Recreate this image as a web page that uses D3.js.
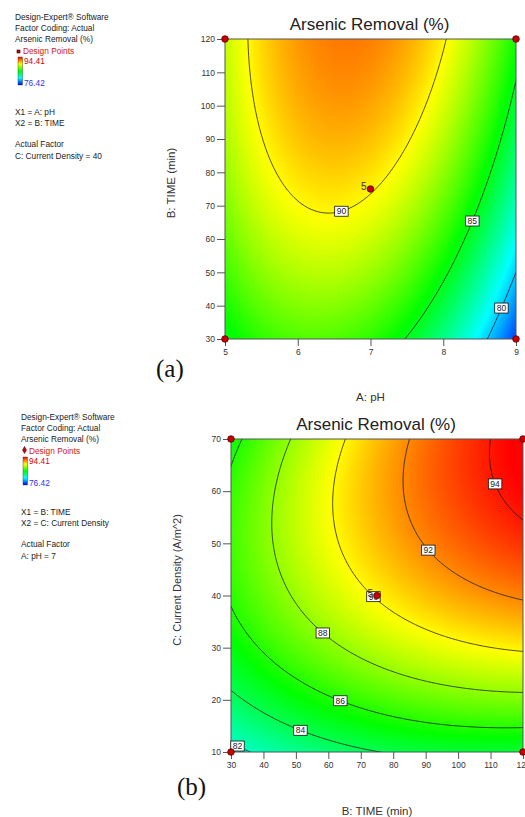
<!DOCTYPE html>
<html>
<head>
<meta charset="utf-8">
<style>
  body { margin: 0; background: #fff; font-family: "Liberation Sans", Arial, sans-serif; }
  svg { display: block; }
</style>
</head>
<body>
<svg width="525" height="817"></svg>
<script src="https://d3js.org/d3.v7.min.js"></script>
<script>
// quadratic response surface, coded units (A = pH, B = time, C = current density)
const terms = ["I", "A", "B", "C", "AB", "AC", "BC", "AA", "BB", "CC"];
const coefs = [90.1, -2.65, 3.0, 3.53, 1.073, 0, 1.56, -4.9, -0.95, -2.6];
const factorLow = [5, 30, 10];
const factorHigh = [9, 120, 70];
const responseRange = [76.42, 94.41];

// panel (a): pH vs time, current density held at 40
const levelsA = [80, 85, 90];
const labelAtA = [8.8, 8.4, 6.6];
const ticksXA = [5, 6, 7, 8, 9];
const ticksYA = [30, 40, 50, 60, 70, 80, 90, 100, 110, 120];
const designA = [[5, 30], [5, 120], [9, 30], [9, 120], [7, 75]];
const repsA = [1, 1, 1, 1, 5];
const legendA = ["Design-Expert\u00ae Software", "Factor Coding: Actual", "Arsenic Removal (%)",
  "X1 = A: pH", "X2 = B: TIME", "Actual Factor", "C: Current Density = 40"];

// panel (b): time vs current density, pH held at 7
const levelsB = [82, 84, 86, 88, 90, 92, 94];
const labelAtB = [32, 51.4, 63.7, 58.3, 73.9, 90.8, 111.4];
const ticksXB = [30, 40, 50, 60, 70, 80, 90, 100, 110, 120];
const ticksYB = [10, 20, 30, 40, 50, 60, 70];
const designB = [[30, 10], [30, 70], [120, 10], [120, 70], [75, 40]];
const repsB = [1, 1, 1, 1, 5];
const legendB = ["Design-Expert\u00ae Software", "Factor Coding: Actual", "Arsenic Removal (%)",
  "X1 = B: TIME", "X2 = C: Current Density", "Actual Factor", "A: pH = 7"];

const svg = d3.select("svg");
const defs = svg.append("defs");

function coded(k, v) {
  const mid = (factorLow[k] + factorHigh[k]) / 2, half = (factorHigh[k] - factorLow[k]) / 2;
  return (v - mid) / half;
}
function response(vals) {
  const x = { A: coded(0, vals[0]), B: coded(1, vals[1]), C: coded(2, vals[2]) };
  let y = 0;
  terms.forEach((t, i) => {
    let v = 1;
    if (t !== "I") for (const ch of t) v *= x[ch];
    y += coefs[i] * v;
  });
  return y;
}

const lo = responseRange[0], hi = responseRange[1];
const stops = d3.range(5).map(i => lo + i * (hi - lo) / 4);
const color = d3.scaleLinear().domain(stops)
  .range(["#0000ff", "#00ffff", "#00ff00", "#ffff00", "#ff0000"]).clamp(true);

const grad = defs.append("linearGradient").attr("id", "bar")
  .attr("x1", 0).attr("y1", 1).attr("x2", 0).attr("y2", 0);
stops.forEach((s, i) => grad.append("stop").attr("offset", i / 4).attr("stop-color", color(s)));

function drawPanel(p) {
  const g = svg.append("g");
  const { left, top, w, h } = p.box;
  const x = d3.scaleLinear().domain([factorLow[p.fx], factorHigh[p.fx]]).range([left, left + w]);
  const y = d3.scaleLinear().domain([factorLow[p.fy], factorHigh[p.fy]]).range([top + h, top]);
  const f = (xv, yv) => { const v = p.fixed.slice(); v[p.fx] = xv; v[p.fy] = yv; return response(v); };

  // colour fill
  const canvas = document.createElement("canvas");
  canvas.width = w; canvas.height = h;
  const ctx = canvas.getContext("2d");
  const img = ctx.createImageData(w, h);
  for (let j = 0; j < h; j++) {
    for (let i = 0; i < w; i++) {
      const c = d3.rgb(color(f(x.invert(left + i + 0.5), y.invert(top + j + 0.5))));
      const k = (j * w + i) * 4;
      img.data[k] = c.r; img.data[k + 1] = c.g; img.data[k + 2] = c.b; img.data[k + 3] = 255;
    }
  }
  ctx.putImageData(img, 0, 0);
  g.append("image").attr("x", left).attr("y", top).attr("width", w).attr("height", h)
    .attr("preserveAspectRatio", "none").attr("href", canvas.toDataURL());

  // contour lines
  const n = 160, pad = 3, nx = n + 1 + 2 * pad;
  const sx = (factorHigh[p.fx] - factorLow[p.fx]) / n, sy = (factorHigh[p.fy] - factorLow[p.fy]) / n;
  const values = new Array(nx * nx);
  for (let j = 0; j < nx; j++)
    for (let i = 0; i < nx; i++)
      values[j * nx + i] = f(factorLow[p.fx] + (i - pad) * sx, factorHigh[p.fy] - (j - pad) * sy);
  const contours = d3.contours().size([nx, nx]).thresholds(p.levels)(values);
  const proj = d3.geoTransform({
    point(gx, gy) {
      this.stream.point(x(factorLow[p.fx] + (gx - 0.5 - pad) * sx), y(factorHigh[p.fy] - (gy - 0.5 - pad) * sy));
    }
  });
  defs.append("clipPath").attr("id", "clip" + p.id).append("rect")
    .attr("x", left).attr("y", top).attr("width", w).attr("height", h);
  g.append("g").attr("clip-path", "url(#clip" + p.id + ")")
    .selectAll("path").data(contours).join("path")
    .attr("d", d3.geoPath(proj)).attr("fill", "none").attr("stroke", "#111").attr("stroke-width", 0.75);

  // frame
  g.append("rect").attr("x", left).attr("y", top).attr("width", w).attr("height", h)
    .attr("fill", "none").attr("stroke", "#555").attr("stroke-width", 1);

  // axes
  const ax = g.append("g").attr("transform", `translate(0,${top + h})`)
    .call(d3.axisBottom(x).tickValues(p.ticksX).tickSize(7).tickPadding(3).tickFormat(d3.format("d")));
  const ay = g.append("g").attr("transform", `translate(${left},0)`)
    .call(d3.axisLeft(y).tickValues(p.ticksY).tickSize(8).tickPadding(2).tickFormat(d3.format("d")));
  [ax, ay].forEach(a => {
    a.select(".domain").remove();
    a.selectAll("line").attr("stroke", "#555");
    a.selectAll("text").attr("fill", "#333").style("font-size", "8.5px").style("font-family", "Liberation Sans, Arial");
  });

  // contour labels
  const lab = g.append("g");
  p.levels.forEach((lev, i) => {
    const xv = p.labelAt[i];
    const y0 = factorLow[p.fy], y1 = factorHigh[p.fy], steps = 600;
    let a = y0, b = null;
    for (let s = 1; s <= steps; s++) {
      const yy = y0 + (y1 - y0) * s / steps;
      if ((f(xv, a) - lev) * (f(xv, yy) - lev) <= 0) { b = yy; break; }
      a = yy;
    }
    if (b === null) return;
    for (let it = 0; it < 40; it++) {
      const m = (a + b) / 2;
      if ((f(xv, a) - lev) * (f(xv, m) - lev) <= 0) b = m; else a = m;
    }
    const cx = x(xv), cy = y((a + b) / 2);
    const box = lab.append("g");
    const r = box.append("rect");
    const t = box.append("text").attr("x", cx).attr("y", cy).attr("dy", "0.35em")
      .attr("text-anchor", "middle").style("font-size", "8.5px").attr("fill", "#222").text(lev);
    const tw = t.node().getComputedTextLength();
    r.attr("x", cx - tw / 2 - 2).attr("y", cy - 5).attr("width", tw + 4).attr("height", 10)
      .attr("fill", "#fff").attr("stroke", "#111").attr("stroke-width", 0.8);
  });

  // design points
  g.selectAll("circle.dp").data(p.design).join("circle").attr("class", "dp")
    .attr("cx", d => x(d[0])).attr("cy", d => y(d[1])).attr("r", 3.3)
    .attr("fill", "#c80000").attr("stroke", "#5a0000").attr("stroke-width", 0.8);
  g.selectAll("text.rep").data(p.design.filter((d, i) => p.reps[i] > 1)).join("text").attr("class", "rep")
    .attr("x", d => x(d[0]) - 4).attr("y", d => y(d[1]) + 1)
    .attr("text-anchor", "end").style("font-size", "10px").attr("fill", "#333")
    .text((d, i) => p.reps.filter(r => r > 1)[i]);

  // titles
  g.append("text").attr("x", left + w / 2 + p.titleDx).attr("y", top - 9).attr("text-anchor", "middle")
    .style("font-size", "17px").attr("fill", "#222").text("Arsenic Removal (%)");
  g.append("text").attr("x", x((factorLow[p.fx] + factorHigh[p.fx]) / 2)).attr("y", p.xLabelY)
    .attr("text-anchor", "middle").style("font-size", "11.5px").attr("fill", "#333").text(p.xTitle);
  g.append("text").attr("transform", `translate(${p.yLabelX},${p.yLabelCy}) rotate(-90)`)
    .attr("dy", "0.35em").attr("text-anchor", "middle").style("font-size", p.yLabelSize).attr("fill", "#333")
    .text(p.yTitle);
  g.append("text").attr("x", p.tag[0]).attr("y", p.tag[1])
    .style("font-family", "Liberation Serif, Times New Roman, serif").style("font-size", "25px")
    .attr("fill", "#111").text(p.tagText);

  // legend
  const lg = g.append("g").attr("transform", `translate(${p.legend[0]},${p.legend[1]})`)
    .style("font-size", "8.3px").attr("fill", "#222");
  const lines = p.legendLines;
  [0, 1, 2].forEach(i => lg.append("text").attr("x", 0).attr("y", i * 11).text(lines[i]));
  if (p.id === "a") {
    lg.append("rect").attr("x", 2).attr("y", 30).attr("width", 3).attr("height", 3)
      .attr("fill", "#c80000").attr("stroke", "#400").attr("stroke-width", 0.6);
  } else {
    lg.append("path").attr("d", d3.symbol(d3.symbolDiamond, 14)())
      .attr("transform", "translate(3.5,30)").attr("fill", "#c80000").attr("stroke", "#400").attr("stroke-width", 0.5);
  }
  lg.append("text").attr("x", 8).attr("y", 33.5).attr("fill", "#d01818").text("Design Points");
  lg.append("rect").attr("x", p.barX).attr("y", 37).attr("width", 4.5).attr("height", 28)
    .attr("fill", "url(#bar)").attr("stroke", "#333").attr("stroke-width", 0.4);
  lg.append("text").attr("x", p.barX + 6).attr("y", 44).attr("fill", "#e00000").text(d3.format(".2f")(hi));
  lg.append("text").attr("x", p.barX + 6).attr("y", 66).attr("fill", "#3030ff").text(d3.format(".2f")(lo));
  lg.append("text").attr("x", 0).attr("y", 95).text(lines[3]);
  lg.append("text").attr("x", 0).attr("y", 106).text(lines[4]);
  lg.append("text").attr("x", 0).attr("y", 127).text(lines[5]);
  lg.append("text").attr("x", 0).attr("y", 139).text(lines[6]);
}

drawPanel({
  id: "a", box: { left: 225, top: 39, w: 291, h: 300 }, fx: 0, fy: 1, fixed: [7, 75, 40],
  levels: levelsA, labelAt: labelAtA, ticksX: ticksXA, ticksY: ticksYA,
  design: designA, reps: repsA, legendLines: legendA, legend: [15, 20], barX: 3,
  xTitle: "A: pH", yTitle: "B: TIME (min)", xLabelY: 401, yLabelX: 171, yLabelCy: 183, yLabelSize: "11.5px",
  titleDx: -1, tag: [156, 377], tagText: "(a)"
});
drawPanel({
  id: "b", box: { left: 231, top: 439, w: 292, h: 313 }, fx: 1, fy: 2, fixed: [7, 75, 40],
  levels: levelsB, labelAt: labelAtB, ticksX: ticksXB, ticksY: ticksYB,
  design: designB, reps: repsB, legendLines: legendB, legend: [21, 420], barX: 2,
  xTitle: "B: TIME (min)", yTitle: "C: Current Density (A/m^2)", xLabelY: 815, yLabelX: 177, yLabelCy: 580, yLabelSize: "11px",
  titleDx: -1, tag: [177, 795], tagText: "(b)"
});
</script>
</body>
</html>
